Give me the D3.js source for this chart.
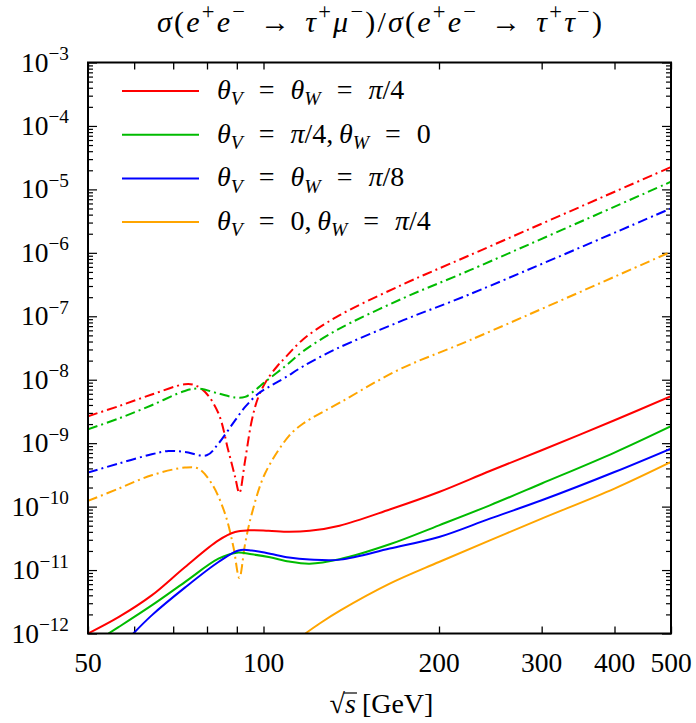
<!DOCTYPE html>
<html>
<head>
<meta charset="utf-8">
<script src="https://cdn.jsdelivr.net/npm/d3@7"></script>
<style>
  body { margin: 0; background: #fff; }
  text { font-family: "Liberation Serif", "DejaVu Serif", serif; fill: #000; }
</style>
</head>
<body>
<svg width="696" height="723"></svg>
<script>
// sqrt(s) in GeV, ratio values
var redDashX   = [50, 56.4, 64.3, 73.3, 76.3, 79.4, 83.7, 87.0, 89.4, 90.9, 93.0, 95.5, 98.0, 101.3, 105.9, 108.9, 117, 133.5, 173.7, 226, 500];
var redDashY   = [2.66e-9, 3.82e-9, 5.84e-9, 8.49e-9, 8.19e-9, 6.42e-9, 2.96e-9, 7.73e-10, 2.93e-10, 1.64e-10, 5.37e-10, 2.30e-9, 5.36e-9, 9.82e-9, 1.69e-8, 2.22e-8, 4.35e-8, 9.78e-8, 3.2e-7, 9.20e-7, 2.25e-5];
var greenDashX = [50, 56.4, 64.3, 73.3, 77.3, 83.7, 89.4, 93.0, 96.7, 100.6, 108.9, 117, 133.5, 173.7, 226, 500];
var greenDashY = [1.66e-9, 2.44e-9, 3.96e-9, 6.66e-9, 7.26e-9, 6.06e-9, 5.24e-9, 5.36e-9, 6.83e-9, 9.23e-9, 1.63e-8, 2.82e-8, 6.04e-8, 1.93e-7, 5.33e-7, 1.32e-5];
var blueDashX  = [50, 56.4, 64.3, 68.7, 73.3, 79.9, 83.7, 88.2, 93.0, 98.0, 103.3, 108.9, 117, 133.5, 173.7, 226, 500];
var blueDashY  = [3.44e-10, 4.77e-10, 6.68e-10, 7.53e-10, 7.26e-10, 6.44e-10, 9.86e-10, 1.92e-9, 3.72e-9, 6.06e-9, 8.19e-9, 1.08e-8, 1.63e-8, 3.08e-8, 8.68e-8, 2.23e-7, 5.02e-6];
var orangeDashX = [50, 56.4, 64.3, 73.3, 77.3, 81.5, 85.9, 88.8, 90.9, 93.0, 95.5, 100.6, 110.6, 117, 135.5, 171, 226, 500];
var orangeDashY = [1.23e-10, 1.92e-10, 3.12e-10, 4.12e-10, 3.98e-10, 2.31e-10, 7.75e-11, 2.31e-11, 7.5e-12, 2.61e-11, 7.75e-11, 3.32e-10, 1.3e-9, 2.04e-9, 4.4e-9, 1.45e-8, 4.20e-8, 1.04e-6];

var redX   = [50, 56.4, 64.3, 73.3, 83.7, 89.4, 94.2, 102, 110.6, 120, 135, 164.6, 200, 244.5, 300, 400, 500];
var redY   = [1.0e-12, 1.81e-12, 3.99e-12, 1.11e-11, 2.94e-11, 3.98e-11, 4.23e-11, 4.15e-11, 4.0e-11, 4.15e-11, 5.0e-11, 9.0e-11, 1.70e-10, 3.64e-10, 7.73e-10, 2.30e-9, 5.5e-9];
var greenX = [54.2, 56.4, 64.3, 73.3, 83.7, 90.0, 95.5, 102.6, 110.6, 120, 135, 164.6, 200, 244.5, 300, 400, 500];
var greenY = [1.0e-12, 1.26e-12, 2.77e-12, 6.46e-12, 1.51e-11, 1.88e-11, 1.77e-11, 1.59e-11, 1.36e-11, 1.26e-11, 1.48e-11, 2.55e-11, 5.07e-11, 1.048e-10, 2.31e-10, 7.1e-10, 1.85e-9];
var blueX  = [59.8, 64.3, 73.3, 83.7, 90.6, 95.5, 102.6, 110.6, 120, 135.5, 164.6, 200, 244.5, 300, 400, 500];
var blueY  = [1.0e-12, 1.93e-12, 5.28e-12, 1.34e-11, 2.04e-11, 2.04e-11, 1.81e-11, 1.58e-11, 1.47e-11, 1.46e-11, 2.18e-11, 3.32e-11, 6.46e-11, 1.257e-10, 3.51e-10, 8.22e-10];
var orangeX = [118, 125, 135.5, 164.6, 200, 244.5, 300, 400, 500];
var orangeY = [1.0e-12, 1.45e-12, 2.31e-12, 6.1e-12, 1.34e-11, 2.94e-11, 6.46e-11, 1.92e-10, 5.05e-10];

var xMajor = [50, 100, 200, 300, 400, 500];
var xMinor = [60, 70, 80, 90];
var yExponents = [-12, -11, -10, -9, -8, -7, -6, -5, -4, -3];

var margin = { left: 88, top: 62.5, right: 25, bottom: 89.5 };
var W = 696, H = 723;
var pw = W - margin.left - margin.right;
var ph = H - margin.top - margin.bottom;

var svg = d3.select('svg');
var g = svg.append('g').attr('transform', 'translate(' + margin.left + ',' + margin.top + ')');

var x = d3.scaleLog().domain([50, 500]).range([0, pw]);
var y = d3.scaleLog().domain([1e-12, 1e-3]).range([ph, 0]);

// writes math-like text made of roman/italic/sup/sub/relation pieces
function addMath(textSel, parts, size, relPad, supScale) {
  var shift = 0, pendingDx = 0;
  var sc = supScale || 0.7;
  parts.forEach(function(p) {
    var ts = textSel.append('tspan').text(p[0]);
    var type = p[1];
    var target = 0;
    if (type.indexOf('sup') >= 0) { target = -0.42 * size; ts.attr('font-size', size * sc); }
    else if (type.indexOf('sub') >= 0) { target = 0.22 * size; ts.attr('font-size', size * sc); }
    if (target - shift !== 0) ts.attr('dy', target - shift);
    shift = target;
    var dx = pendingDx;
    pendingDx = 0;
    if (type === 'rel') { dx += relPad; pendingDx = relPad; }
    if (type === 'punct') { pendingDx = size * 0.2; }
    if (dx) ts.attr('dx', dx);
    if (type.charAt(0) === 'i') ts.attr('font-style', 'italic');
  });
}

g.append('clipPath').attr('id', 'plotclip')
  .append('rect').attr('width', pw).attr('height', ph);

// ticks on all four sides, pointing in
var tickLen = 7;
g.append('g').attr('transform', 'translate(0,' + ph + ')')
  .call(d3.axisBottom(x).tickValues(xMajor.concat(xMinor)).tickSize(-tickLen).tickFormat(''))
  .call(function(a) { a.select('.domain').remove(); a.selectAll('line').attr('stroke-width', 1.3); });
g.append('g')
  .call(d3.axisTop(x).tickValues(xMajor.concat(xMinor)).tickSize(-tickLen).tickFormat(''))
  .call(function(a) { a.select('.domain').remove(); a.selectAll('line').attr('stroke-width', 1.3); });

var yMinor = [];
yExponents.slice(0, -1).forEach(function(e) {
  for (var k = 2; k <= 9; k++) yMinor.push(k * Math.pow(10, e));
});
var yMajor = yExponents.map(function(e) { return Math.pow(10, e); });

[['left', 0], ['right', pw]].forEach(function(side) {
  var isLeft = side[0] === 'left';
  var axMaj = (isLeft ? d3.axisLeft(y) : d3.axisRight(y)).tickValues(yMajor).tickSize(-9).tickFormat('');
  var axMin = (isLeft ? d3.axisLeft(y) : d3.axisRight(y)).tickValues(yMinor).tickSize(-5).tickFormat('');
  [axMaj, axMin].forEach(function(ax) {
    g.append('g').attr('transform', 'translate(' + side[1] + ',0)').call(ax)
      .call(function(a) { a.select('.domain').remove(); a.selectAll('line').attr('stroke-width', 1.2); });
  });
});

// x tick labels
g.selectAll('.xlab').data(xMajor).enter().append('text')
  .attr('class', 'xlab')
  .attr('x', function(d) { return x(d); })
  .attr('y', ph + 38)
  .attr('text-anchor', 'middle')
  .attr('font-size', 27.5)
  .text(function(d) { return d; });

// y tick labels 10^n
yExponents.forEach(function(e) {
  var t = g.append('text')
    .attr('x', -19)
    .attr('y', y(Math.pow(10, e)) + 9)
    .attr('text-anchor', 'end')
    .attr('font-size', 27.5);
  addMath(t, [['10', 'r'], ['\u2212' + Math.abs(e), 'sup']], 27.5, 0);
});

// curves
var line = d3.line()
  .x(function(d) { return x(d[0]); })
  .y(function(d) { return y(d[1]); })
  .curve(d3.curveCatmullRom.alpha(0.5));

var series = [
  { xs: redDashX, ys: redDashY, color: '#ff0000', dash: true },
  { xs: greenDashX, ys: greenDashY, color: '#00bb00', dash: true },
  { xs: blueDashX, ys: blueDashY, color: '#0000ff', dash: true },
  { xs: orangeDashX, ys: orangeDashY, color: '#ffa500', dash: true },
  { xs: redX, ys: redY, color: '#ff0000', dash: false },
  { xs: greenX, ys: greenY, color: '#00bb00', dash: false },
  { xs: blueX, ys: blueY, color: '#0000ff', dash: false },
  { xs: orangeX, ys: orangeY, color: '#ffa500', dash: false }
];

var curves = g.append('g').attr('clip-path', 'url(#plotclip)');
curves.selectAll('path').data(series).enter().append('path')
  .attr('d', function(s) { return line(d3.zip(s.xs, s.ys)); })
  .attr('fill', 'none')
  .attr('stroke', function(s) { return s.color; })
  .attr('stroke-width', 2)
  .attr('stroke-dasharray', function(s) { return s.dash ? '10,4,2,4' : null; });

// frame
g.append('rect').attr('width', pw).attr('height', ph)
  .attr('fill', 'none').attr('stroke', '#000').attr('stroke-width', 2);

// legend
var legendLabels = [
  [['\u03b8', 'i'], ['V', 'isub'], ['=', 'rel'], ['\u03b8', 'i'], ['W', 'isub'], ['=', 'rel'], ['\u03c0', 'i'], ['/4', 'r']],
  [['\u03b8', 'i'], ['V', 'isub'], ['=', 'rel'], ['\u03c0', 'i'], ['/4', 'r'], [',', 'punct'], ['\u03b8', 'i'], ['W', 'isub'], ['=', 'rel'], ['0', 'r']],
  [['\u03b8', 'i'], ['V', 'isub'], ['=', 'rel'], ['\u03b8', 'i'], ['W', 'isub'], ['=', 'rel'], ['\u03c0', 'i'], ['/8', 'r']],
  [['\u03b8', 'i'], ['V', 'isub'], ['=', 'rel'], ['0', 'r'], [',', 'punct'], ['\u03b8', 'i'], ['W', 'isub'], ['=', 'rel'], ['\u03c0', 'i'], ['/4', 'r']]
];
var legendColors = ['#ff0000', '#00bb00', '#0000ff', '#ffa500'];
legendLabels.forEach(function(lab, i) {
  var ly = 28.5 + i * 43.7;
  g.append('line').attr('x1', 34).attr('x2', 111).attr('y1', ly).attr('y2', ly)
    .attr('stroke', legendColors[i]).attr('stroke-width', 2);
  var t = g.append('text').attr('x', 129).attr('y', ly + 8).attr('font-size', 28);
  addMath(t, lab, 28, 16);
});

// title
var title = svg.append('text')
  .attr('x', margin.left + pw / 2).attr('y', 32)
  .attr('text-anchor', 'middle').attr('font-size', 30);
addMath(title, [['\u03c3', 'i'], ['(', 'r'], ['e', 'i'], ['+', 'sup'], ['e', 'i'], ['\u2212', 'sup'], ['\u2192', 'rel'],
  ['\u03c4', 'i'], ['+', 'sup'], ['\u03bc', 'i'], ['\u2212', 'sup'], [')/', 'r'], ['\u03c3', 'i'], ['(', 'r'],
  ['e', 'i'], ['+', 'sup'], ['e', 'i'], ['\u2212', 'sup'], ['\u2192', 'rel'], ['\u03c4', 'i'], ['+', 'sup'],
  ['\u03c4', 'i'], ['\u2212', 'sup'], [')', 'r']], 30, 13, 0.75);
title.attr('textLength', 445).attr('lengthAdjust', 'spacing');

// x axis label
var xl = svg.append('text')
  .attr('x', margin.left + pw / 2 + 2).attr('y', 713)
  .attr('text-anchor', 'middle').attr('font-size', 28);
xl.append('tspan').text('\u221a');
var sT = xl.append('tspan').attr('font-style', 'italic').text('s');
xl.append('tspan').attr('dx', 6).text('[GeV]');
var sb = sT.node().getBBox();
svg.append('line').attr('x1', sb.x - 1).attr('x2', sb.x + sb.width + 1)
  .attr('y1', sb.y + 5).attr('y2', sb.y + 5).attr('stroke', '#000').attr('stroke-width', 1.2);
</script>
</body>
</html>
